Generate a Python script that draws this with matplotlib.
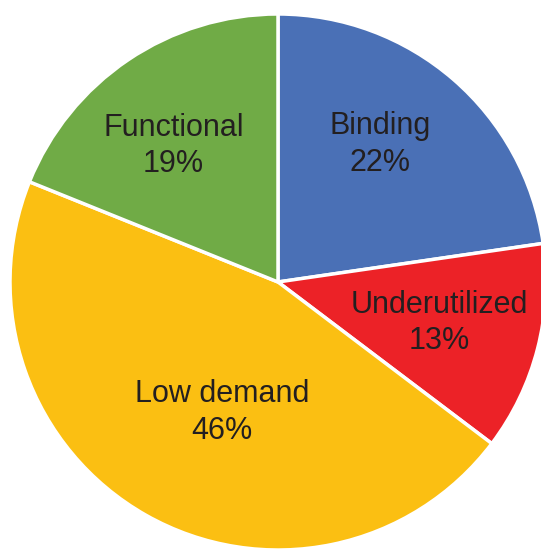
import numpy as np
import matplotlib
matplotlib.use('Agg')
import matplotlib.pyplot as plt

labels = ['Binding', 'Underutilized', 'Low demand', 'Functional']
shares = [22.7, 12.6, 45.8, 18.9]          # wedge sizes
pct_text = ['22%', '13%', '46%', '19%']    # percentages as printed
colors = ['#4a70b6', '#ec2227', '#fbbf12', '#70ab46']
# label placement: fraction of radius and angle nudge (deg) from wedge middle
label_dist = [0.64, 0.62, 0.53, 0.64]
label_turn = [4.2, 0.0, 6.2, 3.5]

plt.rcParams['font.family'] = ['Liberation Sans', 'DejaVu Sans']

fig = plt.figure(figsize=(5.41, 5.5), dpi=100)
ax = fig.add_axes([0, 0, 1, 1])

cx, cy, r = 278, 268, 268
wedges, _ = ax.pie(shares, colors=colors, startangle=90, counterclock=False,
                   center=(cx, cy), radius=r,
                   wedgeprops=dict(edgecolor='white', linewidth=2.5))

for w, lab, pct, d, turn in zip(wedges, labels, pct_text, label_dist, label_turn):
    ang = np.deg2rad((w.theta1 + w.theta2) / 2 + turn)
    ax.text(cx + d * r * np.cos(ang), cy + d * r * np.sin(ang),
            f'{lab}\n{pct}', ha='center', va='center',
            fontsize=22, color='#231f20', linespacing=1.27)

ax.set_xlim(0, 541)
ax.set_ylim(0, 550)
ax.set_aspect('equal')
ax.axis('off')

fig.savefig('out.png', dpi=100)
